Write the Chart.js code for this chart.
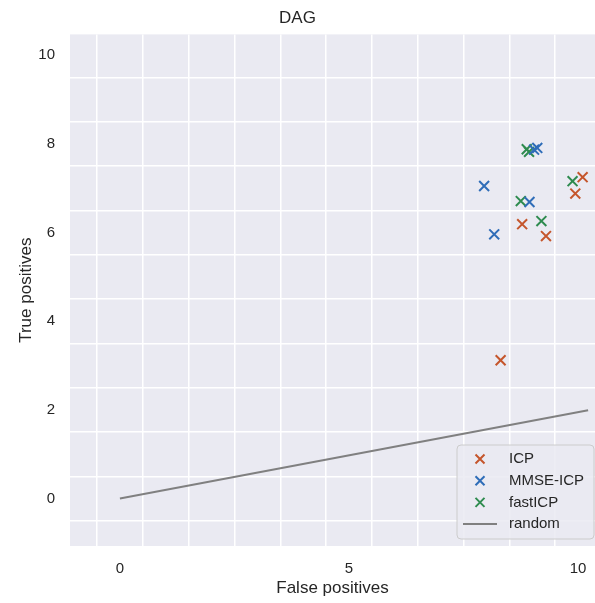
<!DOCTYPE html>
<html>
<head>
<meta charset="utf-8">
<script src="https://cdn.jsdelivr.net/npm/chart.js@4"></script>
<style>
    html, body { margin: 0; padding: 0; background: white; overflow: hidden; }
    #wrap { width: 595px; height: 603px; }
</style>
</head>
<body>
<div id="wrap"><canvas id="myChart" width="595" height="603"></canvas></div>
<script>
// values: [false positives, true positives]
const icpFP = [8.31, 8.78, 9.30, 9.94, 10.10];
const icpTP = [3.12, 6.19, 5.92, 6.88, 7.25];

const mmseFP = [7.95, 8.17, 8.94, 9.04, 9.11];
const mmseTP = [7.05, 5.96, 6.69, 7.87, 7.91];

const fastFP = [8.75, 9.20, 9.88, 8.88, 8.93];
const fastTP = [6.71, 6.26, 7.16, 7.88, 7.82];

const randomFP = [0, 10.22];
const randomTP = [0, 1.99];

const xTickLabels = [0, 5, 10];
const yTickLabels = [0, 2, 4, 6, 8, 10];

const xRange = [-1.09, 10.37];
const yRange = [-1.07, 10.47];

function toPoints(xs, ys) {
    return xs.map((x, i) => ({x: x, y: ys[i]}));
}

function isHalf(v) {
    return Math.abs(v - Math.round(v)) > 0.25;
}

// labelled ticks plus gridlines on the half units
function buildTicks(labels, range) {
    const values = labels.slice();
    for (let v = Math.ceil(range[0]) - 0.5; v < range[1]; v += 1) {
        if (v > range[0]) values.push(v);
    }
    values.sort((a, b) => a - b);
    return values.map(v => ({value: v}));
}

const plotBackground = {
    id: "plotBackground",
    beforeDraw(chart) {
        const a = chart.chartArea;
        const ctx = chart.ctx;
        ctx.save();
        ctx.fillStyle = "#EAEAF2";
        ctx.fillRect(a.left, a.top, a.right - a.left, a.bottom - a.top);
        ctx.restore();
    }
};

const boxLegend = {
    id: "boxLegend",
    afterDraw(chart) {
        const ctx = chart.ctx;
        const left = 457, top = 445, w = 137, h = 94;
        ctx.save();
        ctx.beginPath();
        ctx.roundRect(left, top, w, h, 4);
        ctx.fillStyle = "rgba(234,234,242,0.85)";
        ctx.fill();
        ctx.strokeStyle = "#CCCCCC";
        ctx.lineWidth = 1;
        ctx.stroke();

        ctx.font = "15px 'Liberation Sans', Arial, sans-serif";
        ctx.textBaseline = "middle";
        ctx.fillStyle = "#262626";
        chart.data.datasets.forEach((ds, i) => {
            const y = top + 14 + i * 21.7;
            ctx.strokeStyle = ds.borderColor;
            if (ds.showLine) {
                ctx.lineWidth = 2;
                ctx.beginPath();
                ctx.moveTo(463, y);
                ctx.lineTo(497, y);
                ctx.stroke();
            } else {
                ctx.lineWidth = 2;
                const r = 4.5;
                ctx.beginPath();
                ctx.moveTo(480 - r, y - r);
                ctx.lineTo(480 + r, y + r);
                ctx.moveTo(480 - r, y + r);
                ctx.lineTo(480 + r, y - r);
                ctx.stroke();
            }
            ctx.fillText(ds.label, 509, y);
        });
        ctx.restore();
    }
};

function markerSet(label, xs, ys, color) {
    return {
        label: label,
        data: toPoints(xs, ys),
        borderColor: color,
        backgroundColor: color,
        pointStyle: "crossRot",
        pointRadius: 7,
        pointBorderWidth: 2,
        showLine: false
    };
}

function showChart() {
    const ctx = document.getElementById("myChart");
    const font = "'Liberation Sans', Arial, sans-serif";
    const textColor = "#262626";

    new Chart(ctx, {
        type: "scatter",
        data: {
            datasets: [
                markerSet("ICP", icpFP, icpTP, "#C5562C"),
                markerSet("MMSE-ICP", mmseFP, mmseTP, "#2F6DB8"),
                markerSet("fastICP", fastFP, fastTP, "#2E8B4F"),
                {
                    label: "random",
                    data: toPoints(randomFP, randomTP),
                    borderColor: "#808080",
                    borderWidth: 2,
                    pointRadius: 0,
                    showLine: true
                }
            ]
        },
        options: {
            responsive: false,
            animation: false,
            layout: {autoPadding: false, padding: 0},
            plugins: {
                legend: {display: false},
                tooltip: {enabled: false},
                title: {
                    display: true,
                    text: "DAG",
                    color: textColor,
                    font: {family: font, size: 17, weight: "normal"},
                    padding: {top: 8, bottom: 6}
                }
            },
            scales: {
                x: {
                    type: "linear",
                    min: xRange[0],
                    max: xRange[1],
                    afterBuildTicks: s => { s.ticks = buildTicks(xTickLabels, xRange); },
                    afterFit: s => { s.height = 57; s.paddingLeft = 0; s.paddingRight = 0; },
                    border: {display: false},
                    grid: {
                        drawTicks: false,
                        lineWidth: 1.5,
                        color: c => (c.tick && isHalf(c.tick.value)) ? "#FFFFFF" : "rgba(0,0,0,0)"
                    },
                    ticks: {
                        autoSkip: false,
                        maxRotation: 0,
                        padding: 14,
                        color: textColor,
                        font: {family: font, size: 15},
                        callback: v => xTickLabels.includes(v) ? String(v) : ""
                    },
                    title: {
                        display: true,
                        text: "False positives",
                        color: textColor,
                        font: {family: font, size: 17},
                        padding: {top: 0, bottom: 4}
                    }
                },
                y: {
                    type: "linear",
                    min: yRange[0],
                    max: yRange[1],
                    afterBuildTicks: s => { s.ticks = buildTicks(yTickLabels, yRange); },
                    afterFit: s => { s.width = 70; s.paddingTop = 0; s.paddingBottom = 0; },
                    border: {display: false},
                    grid: {
                        drawTicks: false,
                        lineWidth: 1.5,
                        color: c => (c.tick && isHalf(c.tick.value)) ? "#FFFFFF" : "rgba(0,0,0,0)"
                    },
                    ticks: {
                        autoSkip: false,
                        padding: 15,
                        color: textColor,
                        font: {family: font, size: 15},
                        callback: v => yTickLabels.includes(v) ? String(v) : ""
                    },
                    title: {
                        display: true,
                        text: "True positives",
                        color: textColor,
                        font: {family: font, size: 17},
                        padding: {top: 16, bottom: 0}
                    }
                }
            }
        },
        plugins: [plotBackground, boxLegend]
    });
}

document.addEventListener("DOMContentLoaded", showChart);
</script>
</body>
</html>
